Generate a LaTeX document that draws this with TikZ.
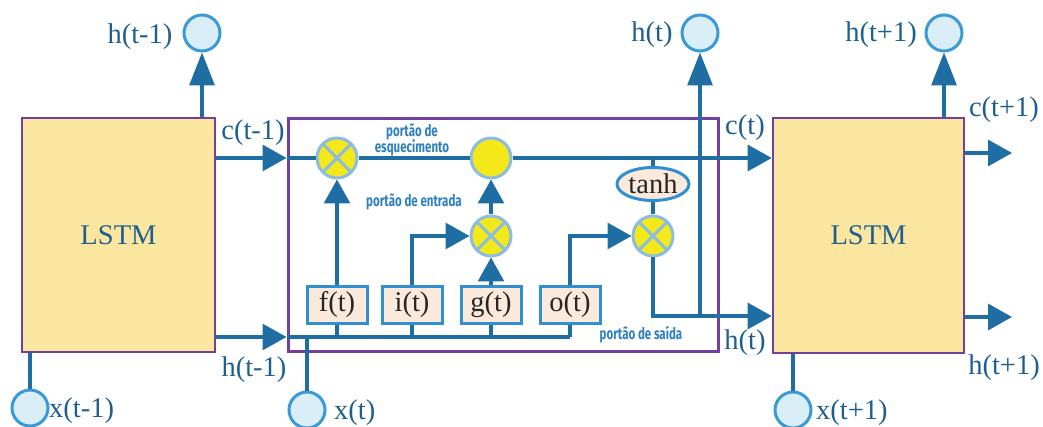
\documentclass[tikz,border=0pt]{standalone}
\usepackage{fontspec}
\setmainfont{Liberation Serif}
\newfontfamily\gatefont[FakeStretch=0.72]{Fira Sans}
\usetikzlibrary{arrows.meta,shapes.geometric}
\definecolor{lineblue}{HTML}{1F6EA3}
\definecolor{txtblue}{HTML}{1F5F8F}
\definecolor{circstroke}{HTML}{3A9AD9}
\definecolor{circfill}{HTML}{DAEEF8}
\definecolor{lstmfill}{HTML}{FBE6A0}
\definecolor{purp}{HTML}{7440A0}
\definecolor{yel}{HTML}{F2E81A}
\definecolor{lightblue}{HTML}{8CBCE2}
\definecolor{peach}{HTML}{FBEADC}
\definecolor{gatestroke}{HTML}{2F8FD0}
\definecolor{smallblue}{HTML}{2F80C0}
\tikzset{
  big/.style={font=\fontsize{28.5}{30}\selectfont},
  lstm/.style={draw=purp, fill=lstmfill, line width=2.6pt, minimum width=193pt, minimum height=234pt, big, text=txtblue, inner sep=0pt},
  io/.style={circle, draw=circstroke, fill=circfill, line width=3pt, minimum size=36pt, inner sep=0pt},
  lab/.style={big, text=txtblue, inner sep=0pt},
  conn/.style={draw=lineblue, line width=3.2pt},
  arr/.style={conn, -{Triangle[length=24pt,width=26pt]}},
  arrT/.style={conn, -{Triangle[length=33pt,width=25pt]}},
  mult/.style={circle, draw=lightblue, fill=yel, line width=3pt, minimum size=40pt, inner sep=0pt,
    path picture={\draw[lightblue, line width=3pt] (path picture bounding box.north west) -- (path picture bounding box.south east) (path picture bounding box.north east) -- (path picture bounding box.south west);}},
  addc/.style={circle, draw=lightblue, fill=yel, line width=3pt, minimum size=40pt, inner sep=0pt},
  gate/.style={draw=gatestroke, fill=peach, line width=3pt, minimum width=60pt, minimum height=36pt, inner sep=0pt, big, text=black!85},
  tanhs/.style={ellipse, draw=gatestroke, fill=peach, line width=3pt, minimum width=72pt, minimum height=33pt, inner sep=0pt, big, text=black!85},
  small/.style={font=\gatefont\bfseries\fontsize{16}{17}\selectfont, text=smallblue, align=center, inner sep=0pt}
}
\begin{document}
\begin{tikzpicture}[x=1pt,y=-1pt]
\useasboundingbox (0,0) rectangle (1043,427);
% boxes
\node[draw=purp, line width=3pt, minimum width=430pt, minimum height=233pt, inner sep=0pt] (M) at (503,235) {};
\node[lstm] (L1) at (118.5,235) {LSTM};
\node[lstm, minimum width=191pt, minimum height=235pt] (L3) at (868.5,235.5) {LSTM};
% reference coordinates
\coordinate (cy) at (0,158);
\coordinate (hy) at (0,337);
\coordinate (hout) at (0,316);
\coordinate (co) at (1012,153);
\coordinate (ho) at (1012,317);
% io circles
\node[io] (hc1) at (202,33) {};
\node[io] (hc2) at (700,33) {};
\node[io] (hc3) at (944,33) {};
\node[io] (xc1) at (30,408) {};
\node[io] (xc2) at (307,410) {};
\node[io] (xc3) at (793,410) {};
% labels
\node[lab] (lh1) at (140,37) {h(t-1)};
\node[lab] (lh2) at (652,35) {h(t)};
\node[lab] (lh3) at (881,35) {h(t+1)};
\node[lab, anchor=west] (lx1) at (49,411) {x(t-1)};
\node[lab, anchor=west] (lx2) at (334,413) {x(t)};
\node[lab, anchor=west] (lx3) at (816,413) {x(t+1)};
\node[lab] (lc1) at (253,133) {c(t-1)};
\node[lab] (lhb1) at (254,370) {h(t-1)};
\node[lab] (lc2) at (745,128) {c(t)};
\node[lab] (lhb2) at (745,343) {h(t)};
\node[lab] (lc3) at (1004,110) {c(t+1)};
\node[lab] (lhb3) at (1004,368) {h(t+1)};
% inner nodes
\node[mult] (fm) at (337,158) {};
\node[addc] (add) at (491,158) {};
\node[mult] (im) at (491,236) {};
\node[mult] (om) at (653,236) {};
\node[tanhs] (tanh) at (653,184) {tanh};
\node[gate] (f) at (337,305) {f(t)};
\node[gate] (i) at (412,305) {i(t)};
\node[gate] (g) at (491,305) {g(t)};
\node[gate] (o) at (570,305) {o(t)};
\node[small] (t1) at (412,140) {portão de\\[-1pt]esquecimento};
\node[small] (t2) at (414,202) {portão de entrada};
\node[small] (t3) at (641,335) {portão de saída};
% connectors
\draw[arrT] (L1.north -| hc1) -- (hc1.south);
\draw[conn] (L1.south -| xc1) -- (xc1.north);
\draw[arr] (L1.east |- cy) -- (M.west |- cy);
\draw[conn] (M.west |- cy) -- (fm.west);
\draw[conn] (fm.east) -- (add.west);
\draw[arr] (add.east) -- (L3.west |- cy);
\draw[conn] (tanh.north) -- (tanh.north |- cy);
\draw[conn] (tanh.south) -- (om.north);
\draw[arr] (om.south) |- (L3.west |- hout);
\draw[arrT] (hc2.south |- hout) -- (hc2.south);
\draw[arr] (L1.east |- hy) -- (M.west |- hy);
\draw[conn] (M.west |- hy) -- (o.south |- hy);
\draw[conn] (f.south) -- (f.south |- hy);
\draw[conn] (i.south) -- (i.south |- hy);
\draw[conn] (g.south) -- (g.south |- hy);
\draw[conn] (o.south) -- (o.south |- hy);
\draw[conn] (xc2.north) -- (xc2.north |- hy);
\draw[arr] (f.north) -- (fm.south);
\draw[arr] (i.north) |- (im.west);
\draw[arr] (g.north) -- (im.south);
\draw[arr] (im.north) -- (add.south);
\draw[arr] (o.north) |- (om.west);
\draw[arr] (L3.east |- co) -- (co);
\draw[arr] (L3.east |- ho) -- (ho);
\draw[arrT] (L3.north -| hc3) -- (hc3.south);
\draw[conn] (L3.south -| xc3) -- (xc3.north);
\end{tikzpicture}
\end{document}
